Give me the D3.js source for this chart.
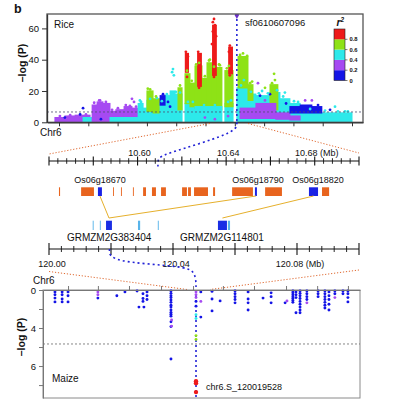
<!DOCTYPE html>
<html><head><meta charset="utf-8">
<script src="https://cdn.jsdelivr.net/npm/d3@7"></script>
<style>body{margin:0;background:#fff}svg{display:block}</style>
</head><body><svg id="c" width="403" height="409"></svg>
<script>
// ---------- DATA ----------
const r2Colors = ["#1414e6", "#a64af2", "#2de9ea", "#8ee216", "#ee1a1a"];
const r2Labels = ["0", "0.2", "0.4", "0.6", "0.8"];

const riceYTicks = [0, 20, 40, 60];
const riceXTicks = [10.0, 10.1, 10.2, 10.3, 10.4, 10.5, 10.6, 10.7, 10.8, 10.9, 11.0];
const riceThreshold = 6.6;
const riceLead = { name: "sf0610607096", pos: 10.607, logp: 68.5, zoomPos: 10.6092 };
// dense clusters of SNPs: [startMb, endMb, low -logP, high -logP, r2 class]
const riceBands = [
  [9.986, 10.113, 0, 3, 1], [10.020, 10.055, 0, 4, 1], [10.055, 10.106, 0, 4.5, 1],
  [10.082, 10.130, 0, 3, 2], [10.113, 10.130, 0, 11, 1], [10.130, 10.150, 0, 13, 1],
  [10.150, 10.174, 0, 12, 1], [10.174, 10.194, 2, 7, 1], [10.194, 10.222, 2, 8, 1],
  [10.222, 10.249, 2, 10, 1], [10.249, 10.270, 2, 9, 1], [10.174, 10.270, 0, 3, 2],
  [10.270, 10.287, 0, 12, 2], [10.287, 10.300, 0, 9, 2], [10.300, 10.345, 0, 14, 2],
  [10.300, 10.321, 7, 20, 3], [10.321, 10.345, 6, 15, 3], [10.345, 10.362, 0, 12, 2],
  [10.362, 10.379, 0, 17, 2], [10.379, 10.396, 0, 20, 2], [10.396, 10.420, 0, 18, 2],
  [10.406, 10.420, 8, 22, 3], [10.430, 10.464, 0, 12, 2], [10.430, 10.447, 12, 31, 3],
  [10.447, 10.464, 10, 25, 3], [10.464, 10.488, 9, 36, 3], [10.488, 10.505, 8, 28, 3],
  [10.505, 10.522, 9, 38, 3], [10.522, 10.539, 10, 34, 3], [10.539, 10.556, 8, 35, 3],
  [10.464, 10.556, 0, 10, 2], [10.566, 10.594, 0, 12, 2], [10.566, 10.594, 10, 33, 3],
  [10.607, 10.645, 0, 22, 2], [10.611, 10.645, 22, 42, 3], [10.645, 10.672, 0, 18, 2],
  [10.645, 10.662, 14, 24, 3], [10.672, 10.720, 0, 17, 2], [10.720, 10.754, 0, 19, 2],
  [10.720, 10.747, 8, 24, 3], [10.754, 10.788, 0, 15, 2], [10.788, 10.823, 0, 12, 2],
  [10.823, 11.000, 0, 6, 2], [10.823, 10.891, 0, 7.5, 2],
  [10.618, 10.672, 2.5, 9, 1], [10.672, 10.740, 2.5, 12, 1], [10.740, 10.788, 2, 6, 1],
  [10.788, 10.823, 1.5, 4, 1],
  [10.345, 10.362, 11, 17, 0], [10.788, 10.897, 6, 10, 0], [10.823, 10.863, 7, 11, 0],
  [10.431, 10.442, 32, 44, 4], [10.473, 10.486, 23, 44, 4], [10.524, 10.537, 30, 62, 4],
  [10.579, 10.592, 31, 48, 4]
];
// isolated SNPs: [posMb, -logP, r2 class]
const ricePoints = [
  [10.020, 3, 0], [10.072, 5, 0], [10.082, 9, 0], [10.143, 2, 0], [10.372, 13, 0], [10.379, 10, 0],
  [10.686, 17, 0], [10.720, 18, 0], [10.775, 12, 0], [10.884, 11, 0], [10.925, 8, 0], [10.355, 18, 0],
  [10.249, 15, 1], [10.256, 13, 1], [10.679, 25, 1], [10.840, 14, 1], [10.863, 14, 1], [10.703, 14, 1],
  [10.140, 14, 1], [10.498, 3, 1], [10.532, 2, 1], [10.577, 4, 1],
  [10.003, 4, 1], [10.038, 4.5, 1], [10.092, 5, 1], [10.120, 12.5, 1], [10.137, 14, 1], [10.160, 13, 1],
  [10.181, 8, 1], [10.201, 9, 1], [10.228, 11, 1], [10.242, 10.5, 1], [10.263, 10, 1],
  [10.386, 32, 2], [10.389, 34, 2], [10.392, 30, 2], [10.276, 14, 2], [10.942, 10, 2], [10.631, 27, 2],
  [10.693, 20, 2], [10.771, 19, 2], [10.976, 7, 2], [10.587, 14, 2],
  [10.280, 13, 2], [10.311, 15, 2], [10.334, 15.5, 2], [10.351, 13.5, 2], [10.368, 18, 2], [10.399, 19.5, 2],
  [10.413, 19, 2], [10.440, 13, 2], [10.457, 13, 2], [10.495, 11, 2], [10.532, 11, 2], [10.577, 13, 2],
  [10.621, 23.5, 2], [10.655, 19.5, 2], [10.682, 18.5, 2], [10.713, 18.5, 2], [10.744, 20.5, 2],
  [10.765, 16.5, 2], [10.802, 13.5, 2], [10.816, 13, 2], [10.857, 8.5, 2], [10.908, 7.5, 2],
  [10.952, 7, 2], [10.986, 7, 2],
  [10.311, 21, 3], [10.437, 33, 3], [10.478, 38, 3], [10.515, 40, 3], [10.546, 37, 3], [10.580, 36, 3],
  [10.628, 44, 3], [10.638, 40, 3], [10.734, 31, 3], [10.737, 27, 3], [10.659, 26, 3], [10.703, 22, 3],
  [10.303, 21.5, 3], [10.331, 16.5, 3], [10.413, 23.5, 3], [10.453, 26.5, 3], [10.468, 37, 3],
  [10.498, 29.5, 3], [10.512, 39.5, 3], [10.529, 35.5, 3], [10.549, 36.5, 3], [10.573, 34.5, 3],
  [10.618, 43, 3], [10.642, 42.5, 3], [10.652, 25, 3], [10.727, 25, 3],
  [10.433, 45, 4], [10.440, 42, 4], [10.475, 45, 4], [10.481, 43, 4], [10.481, 26, 4], [10.525, 64, 4],
  [10.529, 66, 4], [10.532, 62, 4], [10.525, 58, 4], [10.536, 55, 4], [10.522, 50, 4], [10.529, 40, 4],
  [10.583, 49, 4], [10.587, 47, 4], [10.580, 45, 4],
  [10.437, 29, 4], [10.478, 22, 4], [10.529, 29, 4], [10.583, 30, 4]
];
// zoomed window of rice top axis that is expanded below
const riceZoomFrom = [10.515, 10.645];

const riceZoomDomain = [10.56, 10.70];
const riceZoomMajor = [10.56, 10.58, 10.60, 10.62, 10.64, 10.66, 10.68, 10.70];
const riceZoomMinor = [10.564, 10.568, 10.572, 10.576, 10.584, 10.588, 10.592, 10.596, 10.604, 10.608, 10.612, 10.616,
  10.624, 10.628, 10.632, 10.636, 10.644, 10.648, 10.652, 10.656, 10.664, 10.668, 10.672, 10.676, 10.684, 10.688, 10.692, 10.696];
const riceZoomLabels = [[10.60, "10.60"], [10.64, "10.64"], [10.68, "10.68 (Mb)"]];
// rice genes: [start, end, kind]  (o = other gene, b = syntenic ortholog)
const riceGenes = [
  [10.5645, 10.5650, "o"], [10.5745, 10.5803, "o"], [10.5821, 10.5839, "b"], [10.5889, 10.5893, "o"],
  [10.5925, 10.5929, "o"], [10.5979, 10.5983, "o"], [10.6025, 10.6038, "o"], [10.6065, 10.6083, "o"],
  [10.6106, 10.6128, "o"], [10.6201, 10.6223, "o"], [10.6228, 10.6241, "o"], [10.6255, 10.6318, "o"],
  [10.6341, 10.6350, "o"], [10.6427, 10.6521, "o"], [10.6530, 10.6539, "b"], [10.6576, 10.6652, "o"],
  [10.6774, 10.6815, "b"], [10.6833, 10.6865, "o"]
];
const riceGeneLabels = [["Os06g18670", 10.5830], ["Os06g18790", 10.6544], ["Os06g18820", 10.6815]];

const maizeZoomDomain = [120.00, 120.10];
const maizeZoomMajor = [120.00, 120.02, 120.04, 120.06, 120.08, 120.10];
const maizeZoomMinor = [120.004, 120.008, 120.012, 120.016, 120.024, 120.028, 120.032, 120.036, 120.044, 120.048,
  120.052, 120.056, 120.064, 120.068, 120.072, 120.076, 120.084, 120.088, 120.092, 120.096];
const maizeZoomLabels = [[120.00, "120.00"], [120.04, "120.04"], [120.08, "120.08 (Mb)"]];
const maizeGenes = [
  [120.0141, 120.0144, "l"], [120.0164, 120.0167, "l"], [120.0184, 120.0203, "b"], [120.0287, 120.0294, "l"],
  [120.0351, 120.0354, "l"], [120.0545, 120.0574, "b"], [120.0577, 120.0584, "l"]
];
const maizeGeneLabels = [["GRMZM2G383404", 120.0194], ["GRMZM2G114801", 120.0558]];
// ortholog links: [rice gene midpoint, maize gene midpoint]
const orthoLinks = [[10.5830, 120.01935], [10.65345, 120.01935], [10.67945, 120.05595]];

const maizeYTicks = [0, 2, 4, 5, 6, 7];
const maizeYLabels = ["0", "", "4", "", "6", ""];
const maizeXTicks = [119.608, 119.704, 119.804, 119.907, 120.010, 120.106, 120.206, 120.309, 120.409, 120.508];
const maizeThreshold = 4.84;
const maizeLead = { name: "chr6.S_120019528", pos: 120.0195, logp: 7.37 };
const maizeZoomFrom = [119.9906, 120.0645];
// maize SNP columns: [posMb, r2 class, [-logP values]]
const maizeCols = [
  [119.566, 0, [0.2, 0.5, 0.85, 1.25]], [119.589, 0, [0.2, 0.5, 0.95, 1.25]], [119.608, 0, [0.2, 0.6, 1.25]],
  [119.704, 1, [0.2, 0.5]], [119.704, 0, [0.85]], [119.765, 0, [0.6]], [119.791, 0, [0.2]], [119.830, 0, [0.1]],
  [119.836, 0, [1.8]], [119.852, 0, [1.8]], [119.849, 0, [0.4, 0.9, 1.2]], [119.862, 0, [0.2, 0.6, 1.0]],
  [119.939, 0, [0.1, 0.35, 0.6, 0.8, 1.05, 1.3, 1.6, 1.8, 2.1, 2.35, 2.55, 2.75, 3.35, 3.85, 5.63]],
  [119.941, 1, [3.15, 3.8]],
  [120.0195, 1, [0.2, 0.5, 0.8]], [120.0195, 0, [1.2, 1.7]], [120.0195, 2, [2.6, 3.0]],
  [120.0195, 3, [4.4, 4.6]],
  [120.035, 0, [0.2, 2.85]], [120.035, 1, [1.2]], [120.071, 0, [0.15, 0.95, 2.2]], [120.097, 0, [1.15]],
  [120.145, 0, [0.1, 0.4, 0.7, 1.0, 1.35]], [120.187, 0, [0.2, 0.95, 1.35, 2.1]], [120.235, 0, [0.85]],
  [120.261, 0, [0.3, 0.7, 1.35]], [120.306, 0, [1.35]], [120.312, 1, [1.15]],
  [120.331, 0, [0.1, 0.3, 0.5, 0.7, 0.9, 1.1, 1.3]], [120.341, 0, [0.2, 0.5, 0.8, 2.4]],
  [120.354, 0, [0.1, 0.35, 0.6, 0.9, 1.2, 1.5, 1.8, 2.1, 2.4]], [120.376, 0, [0.1, 0.4, 0.7, 1.0]],
  [120.376, 1, [1.35]], [120.412, 0, [0.1, 0.4, 0.7]], [120.434, 0, [0.1, 0.4, 0.7, 1.0, 1.3, 1.6, 1.9]],
  [120.447, 0, [0.2, 0.6, 1.0, 1.5, 2.1]], [120.466, 0, [0.1, 0.4]], [120.466, 1, [0.8]],
  [120.492, 0, [0.1, 0.4]], [120.508, 0, [0.1, 0.4, 0.8, 1.25]]
];
const maizeLeadReds = [6.8, 6.9, 7.37];

// ---------- DRAW ----------
const F = "'Liberation Sans', Arial, Helvetica, sans-serif";
const svg = d3.select("#c");
svg.append("rect").attr("width", 403).attr("height", 409).attr("fill", "#fff");

const xTop = d3.scaleLinear().domain([9.959, 11.0375]).range([47, 363]);
const yTop = d3.scaleLinear().domain([0, 69.2]).range([122.3, 14]);
const xRZ = d3.scaleLinear().domain(riceZoomDomain).range([49, 359]);
const xMZ = d3.scaleLinear().domain(maizeZoomDomain).range([49, 359]);
const xBot = d3.scaleLinear().domain([119.5275, 120.5468]).range([43, 360]);
const yBot = d3.scaleLinear().domain([0, 4, 7.68]).range([290, 328, 398]);

const txt = (x, y, s, size, opt = {}) => svg.append("text").attr("x", x).attr("y", y)
  .attr("font-family", F).attr("font-size", size).attr("fill", opt.fill || "#111")
  .attr("font-weight", opt.weight || "normal").attr("font-style", opt.style || "normal")
  .attr("text-anchor", opt.anchor || "start").text(s);

// panel label
txt(14, 12.5, "b", 12.5, { weight: "bold" });

// ---- top rice panel ----
const defs = svg.append("defs");
defs.append("clipPath").attr("id", "cpTop").append("rect")
  .attr("x", 47).attr("y", 14).attr("width", 316).attr("height", 108.3);
const gTop = svg.append("g").attr("clip-path", "url(#cpTop)");
gTop.selectAll("rect.band").data(riceBands).join("rect").attr("class", "band")
  .attr("x", d => xTop(d[0]) - 0.5).attr("width", d => xTop(d[1]) - xTop(d[0]) + 1)
  .attr("y", d => yTop(d[3]) - 0.6).attr("height", d => yTop(d[2]) - yTop(d[3]) + 1.2)
  .attr("fill", d => r2Colors[d[4]]);
gTop.selectAll("circle.pt").data(ricePoints).join("circle").attr("class", "pt")
  .attr("cx", d => xTop(d[0])).attr("cy", d => yTop(d[1])).attr("r", 1.4)
  .attr("fill", d => r2Colors[d[2]]);
// threshold
gTop.append("line").attr("x1", 47).attr("x2", 363).attr("y1", yTop(riceThreshold)).attr("y2", yTop(riceThreshold))
  .attr("stroke", "#4c4c70").attr("stroke-width", 0.8).attr("stroke-dasharray", "2,2");
// lead snp dotted line
gTop.append("line").attr("x1", xTop(riceLead.pos)).attr("x2", xTop(riceLead.pos)).attr("y1", 14).attr("y2", 122.3)
  .attr("stroke", "#2222d6").attr("stroke-width", 1.6).attr("stroke-dasharray", "2,3");
gTop.append("path").attr("d", d3.symbol().type(d3.symbolDiamond).size(18)())
  .attr("transform", `translate(${xTop(riceLead.pos)},${yTop(riceLead.logp)})`).attr("fill", "#6a2fc9");

// frame
svg.append("rect").attr("x", 47).attr("y", 14).attr("width", 316).attr("height", 108.3)
  .attr("fill", "none").attr("stroke", "#555").attr("stroke-width", 1.3);
const axL = svg.append("g").attr("transform", "translate(47,0)")
  .call(d3.axisLeft(yTop).tickValues(riceYTicks).tickSize(5).tickSizeOuter(0));
axL.select(".domain").attr("stroke", "#333").attr("stroke-width", 1.3);
axL.selectAll("text").attr("font-family", F).attr("font-size", 9.5).attr("fill", "#111");
axL.selectAll("line").attr("stroke", "#333");
const axB = svg.append("g").attr("transform", "translate(0,122.3)")
  .call(d3.axisBottom(xTop).tickValues(riceXTicks).tickSize(4).tickSizeOuter(0).tickFormat(""));
axB.select(".domain").attr("stroke", "#333").attr("stroke-width", 1.3);
axB.selectAll("line").attr("stroke", "#333");

txt(54, 28, "Rice", 10);
txt(245, 25.5, riceLead.name, 9.5);
txt(40, 135.5, "Chr6", 10);
svg.append("text").attr("transform", "translate(26,63) rotate(-90)").attr("text-anchor", "middle")
  .attr("font-family", F).attr("font-size", 10.5).attr("font-weight", "bold").attr("fill", "#111").text("–log (P)");

// color legend
const cb = svg.append("g");
const cbY = d3.scaleLinear().domain([0, 5]).range([80.5, 29]);
cb.selectAll("rect").data(r2Colors).join("rect").attr("x", 334).attr("width", 11)
  .attr("y", (d, i) => cbY(i + 1)).attr("height", cbY(0) - cbY(1)).attr("fill", d => d);
cb.append("rect").attr("x", 334).attr("y", 29).attr("width", 11).attr("height", 51.5)
  .attr("fill", "none").attr("stroke", "#222").attr("stroke-width", 0.6);
cb.selectAll("line").data(r2Labels).join("line").attr("x1", 345).attr("x2", 347.5)
  .attr("y1", (d, i) => cbY(i)).attr("y2", (d, i) => cbY(i)).attr("stroke", "#222").attr("stroke-width", 0.6);
cb.selectAll("text").data(r2Labels).join("text").attr("x", 349.5).attr("y", (d, i) => cbY(i) + 2)
  .attr("font-family", F).attr("font-size", 5.8).attr("font-weight", "bold").attr("fill", "#111").text(d => d);
const r2t = svg.append("text").attr("x", 336.5).attr("y", 25.5).attr("font-family", F).attr("font-size", 10)
  .attr("font-style", "italic").attr("font-weight", "bold").attr("fill", "#111");
r2t.append("tspan").text("r");
r2t.append("tspan").attr("dy", -4).attr("font-size", 6.5).text("2");

// ---- connectors top -> rice zoom ----
const orange = { stroke: "#e06a32", w: 1, dash: "1.2,1.8" };
const dline = (x1, y1, x2, y2) => svg.append("line").attr("x1", x1).attr("y1", y1).attr("x2", x2).attr("y2", y2)
  .attr("stroke", orange.stroke).attr("stroke-width", orange.w).attr("stroke-dasharray", orange.dash);
dline(xTop(riceZoomFrom[0]), 123.5, xRZ(riceZoomDomain[0]), 154);
dline(xTop(riceZoomFrom[1]), 123.5, xRZ(riceZoomDomain[1]), 153);
const curve = d3.line().curve(d3.curveBasis);
svg.append("path").attr("d", curve([[xTop(riceLead.pos), 122.3], [xTop(riceLead.pos), 133], [xRZ(riceLead.zoomPos) + 2, 155],
  [xRZ(riceLead.zoomPos), 160], [xRZ(riceLead.zoomPos), 167]]))
  .attr("fill", "none").attr("stroke", "#2222d6").attr("stroke-width", 1.6).attr("stroke-dasharray", "2,3");

// ---- rice zoom axis ----
const rzY = 161;
svg.append("line").attr("x1", xRZ.range()[0]).attr("x2", xRZ.range()[1]).attr("y1", rzY).attr("y2", rzY)
  .attr("stroke", "#111").attr("stroke-width", 1.2);
svg.selectAll("line.rzM").data(riceZoomMajor).join("line").attr("class", "rzM")
  .attr("x1", d => xRZ(d)).attr("x2", d => xRZ(d)).attr("y1", rzY - 4.5).attr("y2", rzY + 4.5)
  .attr("stroke", "#111").attr("stroke-width", 1.1);
svg.selectAll("line.rzm").data(riceZoomMinor).join("line").attr("class", "rzm")
  .attr("x1", d => xRZ(d)).attr("x2", d => xRZ(d)).attr("y1", rzY - 2.8).attr("y2", rzY + 2.8)
  .attr("stroke", "#111").attr("stroke-width", 0.9);
riceZoomLabels.forEach(d => txt(xRZ(d[0]) + 2, 155.5, d[1], 9, { anchor: "middle" }));

// rice genes
svg.selectAll("rect.rg").data(riceGenes).join("rect").attr("class", "rg")
  .attr("x", d => xRZ(d[0])).attr("width", d => Math.max(0.9, xRZ(d[1]) - xRZ(d[0])))
  .attr("y", 187.3).attr("height", 8.7).attr("fill", d => d[2] === "b" ? "#1a22e4" : "#e8641e");
riceGeneLabels.forEach(d => txt(xRZ(d[1]), 182.5, d[0], 9, { anchor: "middle" }));

// ortholog links
svg.selectAll("line.ol").data(orthoLinks).join("line").attr("class", "ol")
  .attr("x1", d => xRZ(d[0])).attr("y1", 196).attr("x2", d => xMZ(d[1])).attr("y2", 218)
  .attr("stroke", "#e6b02c").attr("stroke-width", 1);

// maize genes
svg.selectAll("rect.mg").data(maizeGenes).join("rect").attr("class", "mg")
  .attr("x", d => xMZ(d[0])).attr("width", d => Math.max(0.9, xMZ(d[1]) - xMZ(d[0])))
  .attr("y", 220.7).attr("height", 9.3).attr("fill", d => d[2] === "b" ? "#1a2ee4" : "#58b4ea");
maizeGeneLabels.forEach(d => txt(xMZ(d[1]), 241, d[0], 10, { anchor: "middle" }));

// ---- maize zoom axis ----
const mzY = 249;
svg.append("line").attr("x1", xMZ.range()[0]).attr("x2", xMZ.range()[1]).attr("y1", mzY).attr("y2", mzY)
  .attr("stroke", "#111").attr("stroke-width", 1.2);
svg.selectAll("line.mzM").data(maizeZoomMajor).join("line").attr("class", "mzM")
  .attr("x1", d => xMZ(d)).attr("x2", d => xMZ(d)).attr("y1", mzY - 6).attr("y2", mzY + 6)
  .attr("stroke", "#111").attr("stroke-width", 1.1);
svg.selectAll("line.mzm").data(maizeZoomMinor).join("line").attr("class", "mzm")
  .attr("x1", d => xMZ(d)).attr("x2", d => xMZ(d)).attr("y1", mzY - 3).attr("y2", mzY + 3)
  .attr("stroke", "#111").attr("stroke-width", 0.9);
maizeZoomLabels.forEach(d => txt(xMZ(d[0]) + 3, 267, d[1], 9, { anchor: "middle" }));

// connectors maize zoom -> bottom panel
dline(xMZ(maizeZoomDomain[0]), 271.5, xBot(maizeZoomFrom[0]), 289.5);
dline(xMZ(maizeZoomDomain[1]), 270, xBot(maizeZoomFrom[1]), 289.5);
svg.append("path").attr("d", curve([[xMZ(maizeLead.pos), mzY], [xMZ(maizeLead.pos), 262], [xBot(maizeLead.pos) - 12, 266],
  [xBot(maizeLead.pos), 272], [xBot(maizeLead.pos), 290]]))
  .attr("fill", "none").attr("stroke", "#2222d6").attr("stroke-width", 1.6).attr("stroke-dasharray", "2,3");

// ---- bottom maize panel ----
svg.append("rect").attr("x", 43).attr("y", 290).attr("width", 317).attr("height", 108)
  .attr("fill", "none").attr("stroke", "#8a8a8a").attr("stroke-width", 1);
svg.append("line").attr("x1", 43).attr("x2", 360).attr("y1", yBot(maizeThreshold)).attr("y2", yBot(maizeThreshold))
  .attr("stroke", "#666").attr("stroke-width", 0.8).attr("stroke-dasharray", "2,2");
svg.append("line").attr("x1", xBot(maizeLead.pos)).attr("x2", xBot(maizeLead.pos)).attr("y1", 290).attr("y2", 397)
  .attr("stroke", "#2222d6").attr("stroke-width", 1.6).attr("stroke-dasharray", "2,3");
const mPts = maizeCols.flatMap(c => c[2].map(v => [c[0], v, c[1]]));
svg.selectAll("circle.mp").data(mPts).join("circle").attr("class", "mp")
  .attr("cx", d => xBot(d[0])).attr("cy", d => yBot(d[1])).attr("r", 1.45)
  .attr("fill", d => r2Colors[d[2]]);
svg.selectAll("circle.mr").data(maizeLeadReds).join("circle").attr("class", "mr")
  .attr("cx", xBot(maizeLead.pos)).attr("cy", d => yBot(d)).attr("r", 2.2).attr("fill", r2Colors[4]);

const bl = svg.append("g").attr("transform", "translate(43,0)")
  .call(d3.axisLeft(yBot).tickValues(maizeYTicks).tickSize(4).tickSizeOuter(0).tickFormat((d, i) => maizeYLabels[i]));
bl.select(".domain").attr("stroke", "#777");
bl.selectAll("line").attr("stroke", "#777");
bl.selectAll("text").attr("font-family", F).attr("font-size", 9.5).attr("fill", "#111");
const bt = svg.append("g").attr("transform", "translate(0,290)")
  .call(d3.axisTop(xBot).tickValues(maizeXTicks).tickSize(4).tickSizeOuter(0).tickFormat(""));
bt.select(".domain").attr("stroke", "#777");
bt.selectAll("line").attr("stroke", "#777");

txt(33, 284, "Chr6", 10);
txt(52, 382, "Maize", 10);
txt(206, 389.5, maizeLead.name, 9);
svg.append("text").attr("transform", "translate(25,337) rotate(-90)").attr("text-anchor", "middle")
  .attr("font-family", F).attr("font-size", 10.5).attr("font-weight", "bold").attr("fill", "#111").text("–log (P)");
</script></body></html>
